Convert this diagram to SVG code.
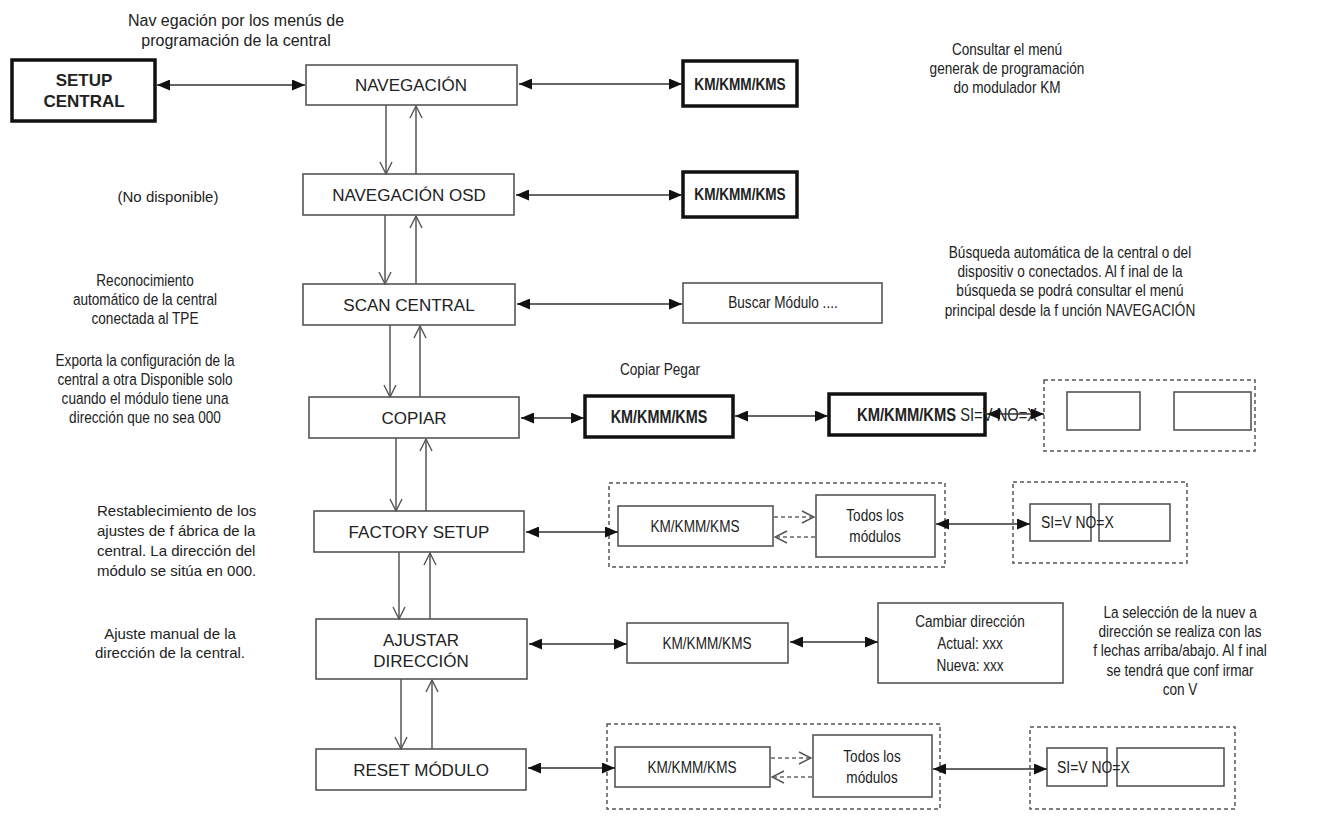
<svg xmlns="http://www.w3.org/2000/svg" width="1318" height="818" viewBox="0 0 1318 818">
<style>
.bg{fill:#fff}
.box{fill:#fff;stroke:#555;stroke-width:1.6}
.thick{fill:#fff;stroke:#111;stroke-width:3.5}
.dash{fill:none;stroke:#555;stroke-width:1.5;stroke-dasharray:4 3}
.inner{fill:#fff;stroke:#555;stroke-width:1.6}
.t{font-family:'Liberation Sans',Arial,sans-serif;fill:#222}
.n{font-family:'Liberation Sans',Arial,sans-serif;fill:#222;transform-box:fill-box;transform-origin:center;transform:scaleX(0.8)}
.nl{font-family:'Liberation Sans',Arial,sans-serif;fill:#222;transform-box:fill-box;transform-origin:left center;transform:scaleX(0.82)}
.bx{font-size:17px;text-anchor:middle}
.b{font-weight:bold}
.c{text-anchor:middle}
.s15{font-size:15px}
.s16{font-size:16px}
.s17{font-size:17px}
.s18{font-size:18px}
.ln{stroke:#333;stroke-width:1.5;fill:none}
.vl{stroke:#555;stroke-width:1.5;fill:none}
.dl{stroke:#666;stroke-width:1.4;fill:none;stroke-dasharray:4 3}
</style>
<defs>
<marker id="ah" viewBox="0 0 13 11" refX="13" refY="5.5" markerWidth="13" markerHeight="11" orient="auto-start-reverse" markerUnits="userSpaceOnUse"><path d="M0,0 L13,5.5 L0,11 Z" fill="#111"/></marker>
<marker id="ov" viewBox="0 0 14 14" refX="13" refY="7" markerWidth="14" markerHeight="14" orient="auto" markerUnits="userSpaceOnUse"><path d="M1,1 L13,7 L1,13" fill="none" stroke="#555" stroke-width="1.4"/></marker>
</defs>
<rect class="bg" width="1318" height="818"/>

<g id="notes">
<text class="t s16 c" x="236" y="26">Nav egación por los menús de</text>
<text class="t s16 c" x="236" y="46">programación de la central</text>
<text class="n s17 c" x="1007" y="55">Consultar el menú</text>
<text class="n s17 c" x="1007" y="74">generak de programación</text>
<text class="n s17 c" x="1007" y="93">do modulador KM</text>
<text class="t s15 c" x="168" y="202">(No disponible)</text>
<text class="n s17 c" x="145" y="286">Reconocimiento</text>
<text class="n s17 c" x="145" y="305">automático de la central</text>
<text class="n s17 c" x="145" y="324">conectada al TPE</text>
<text class="n s17 c" x="1070" y="258">Búsqueda automática de la central o del</text>
<text class="n s17 c" x="1070" y="277">dispositiv o conectados. Al f inal de la</text>
<text class="n s17 c" x="1070" y="296">búsqueda se podrá consultar el menú</text>
<text class="n s17 c" x="1070" y="316">principal desde la f unción NAVEGACIÓN</text>
<text class="n s17 c" x="145" y="366">Exporta la configuración de la</text>
<text class="n s17 c" x="145" y="385">central a otra Disponible solo</text>
<text class="n s17 c" x="145" y="404">cuando el módulo tiene una</text>
<text class="n s17 c" x="145" y="423">dirección que no sea 000</text>
<text class="n s17 c" x="660" y="375">Copiar Pegar</text>
<text class="t s15" x="97" y="516">Restablecimiento de los</text>
<text class="t s15" x="97" y="536">ajustes de f ábrica de la</text>
<text class="t s15" x="97" y="556">central. La dirección del</text>
<text class="t s15" x="97" y="576">módulo se sitúa en 000.</text>
<text class="t s15 c" x="170" y="639">Ajuste manual de la</text>
<text class="t s15 c" x="170" y="658">dirección de la central.</text>
<text class="n s17 c" x="1180" y="618">La selección de la nuev a</text>
<text class="n s17 c" x="1180" y="637">dirección se realiza con las</text>
<text class="n s17 c" x="1180" y="656">f lechas arriba/abajo. Al f inal</text>
<text class="n s17 c" x="1180" y="676">se tendrá que conf irmar</text>
<text class="n s17 c" x="1180" y="695">con V</text>
</g>

<g id="setup-central">
<rect class="thick" x="12" y="60" width="143" height="61"/>
<text class="t b bx" x="84" y="86">SETUP</text>
<text class="t b bx" x="84" y="107">CENTRAL</text>
</g>
<g id="navegacion">
<rect class="box" x="306" y="65" width="211" height="40"/>
<text class="t bx" x="411" y="91">NAVEGACIÓN</text>
</g>
<g id="km1">
<rect class="thick" x="683" y="61" width="114" height="45"/>
<text class="n b s17 c" x="740" y="90">KM/KMM/KMS</text>
</g>
<g id="navegacion-osd">
<rect class="box" x="303" y="174" width="211" height="41"/>
<text class="t bx" x="409" y="201">NAVEGACIÓN OSD</text>
</g>
<g id="km2">
<rect class="thick" x="683" y="172" width="114" height="45"/>
<text class="n b s17 c" x="740" y="200">KM/KMM/KMS</text>
</g>
<g id="scan-central">
<rect class="box" x="303" y="284" width="212" height="41"/>
<text class="t bx" x="409" y="311">SCAN CENTRAL</text>
</g>
<g id="buscar">
<rect class="box" x="683" y="283" width="199" height="40"/>
<text class="n s17 c" x="783" y="308">Buscar Módulo ....</text>
</g>
<g id="copiar">
<rect class="box" x="309" y="397" width="210" height="41"/>
<text class="t bx" x="414" y="424">COPIAR</text>
</g>
<g id="km3">
<rect class="thick" x="585" y="396" width="148" height="41"/>
<text class="n b s18 c" x="659" y="423">KM/KMM/KMS</text>
</g>
<g id="km4">
<rect class="thick" x="829" y="394" width="156" height="41"/>
<text class="nl s18" x="857" y="421"><tspan class="b">KM/KMM/KMS</tspan> SI=V NO=X</text>
</g>
<g id="copiar-confirm">
<rect class="dash" x="1044" y="380" width="211" height="71"/>
<rect class="inner" x="1067" y="392" width="73" height="38"/>
<rect class="inner" x="1174" y="392" width="77" height="38"/>
</g>
<g id="factory-setup">
<rect class="box" x="314" y="511" width="210" height="41"/>
<text class="t bx" x="419" y="538">FACTORY SETUP</text>
</g>
<g id="factory-group">
<rect class="dash" x="609" y="483" width="336" height="84"/>
<rect class="inner" x="618" y="506" width="155" height="40"/>
<text class="n s17 c" x="695" y="532">KM/KMM/KMS</text>
<rect class="inner" x="816" y="495" width="119" height="62"/>
<text class="n s17 c" x="875" y="521">Todos los</text>
<text class="n s17 c" x="875" y="542">módulos</text>
</g>
<g id="factory-confirm">
<rect class="dash" x="1013" y="482" width="174" height="81"/>
<rect class="inner" x="1030" y="504" width="61" height="37"/>
<rect class="inner" x="1099" y="504" width="71" height="37"/>
<text class="nl s17" x="1041" y="528">SI=V NO=X</text>
</g>
<g id="ajustar">
<rect class="box" x="316" y="619" width="211" height="60"/>
<text class="t bx" x="421" y="646">AJUSTAR</text>
<text class="t bx" x="421" y="667">DIRECCIÓN</text>
</g>
<g id="km-ajustar">
<rect class="inner" x="627" y="623" width="161" height="40"/>
<text class="n s17 c" x="707" y="649">KM/KMM/KMS</text>
</g>
<g id="cambiar">
<rect class="inner" x="878" y="603" width="185" height="80"/>
<text class="n s17 c" x="970" y="627">Cambiar dirección</text>
<text class="n s17 c" x="970" y="649">Actual: xxx</text>
<text class="n s17 c" x="970" y="671">Nueva: xxx</text>
</g>
<g id="reset-modulo">
<rect class="box" x="316" y="749" width="210" height="41"/>
<text class="t bx" x="421" y="776">RESET MÓDULO</text>
</g>
<g id="reset-group">
<rect class="dash" x="607" y="724" width="333" height="85"/>
<rect class="inner" x="615" y="747" width="155" height="40"/>
<text class="n s17 c" x="692" y="773">KM/KMM/KMS</text>
<rect class="inner" x="813" y="735" width="119" height="62"/>
<text class="n s17 c" x="872" y="762">Todos los</text>
<text class="n s17 c" x="872" y="783">módulos</text>
</g>
<g id="reset-confirm">
<rect class="dash" x="1030" y="727" width="205" height="82"/>
<rect class="inner" x="1047" y="748" width="60" height="38"/>
<rect class="inner" x="1117" y="748" width="107" height="38"/>
<text class="nl s17" x="1057" y="773">SI=V NO=X</text>
</g>

<g id="connectors">
<line class="ln" x1="157" y1="85" x2="305" y2="85" marker-start="url(#ah)" marker-end="url(#ah)"/>
<line class="ln" x1="519" y1="84" x2="682" y2="84" marker-start="url(#ah)" marker-end="url(#ah)"/>
<line class="ln" x1="516" y1="195" x2="682" y2="195" marker-start="url(#ah)" marker-end="url(#ah)"/>
<line class="ln" x1="517" y1="304" x2="682" y2="304" marker-start="url(#ah)" marker-end="url(#ah)"/>
<line class="ln" x1="521" y1="418" x2="584" y2="418" marker-start="url(#ah)" marker-end="url(#ah)"/>
<line class="ln" x1="735" y1="416" x2="828" y2="416" marker-start="url(#ah)" marker-end="url(#ah)"/>
<line class="ln" x1="987" y1="414" x2="1044" y2="414" marker-start="url(#ah)" marker-end="url(#ah)"/>
<line class="ln" x1="526" y1="532" x2="618" y2="532" marker-start="url(#ah)" marker-end="url(#ah)"/>
<line class="ln" x1="936" y1="524" x2="1030" y2="524" marker-start="url(#ah)" marker-end="url(#ah)"/>
<line class="ln" x1="529" y1="644" x2="627" y2="644" marker-start="url(#ah)" marker-end="url(#ah)"/>
<line class="ln" x1="790" y1="642" x2="878" y2="642" marker-start="url(#ah)" marker-end="url(#ah)"/>
<line class="ln" x1="528" y1="768" x2="615" y2="768" marker-start="url(#ah)" marker-end="url(#ah)"/>
<line class="ln" x1="933" y1="769" x2="1047" y2="769" marker-start="url(#ah)" marker-end="url(#ah)"/>
<line class="dl" x1="774" y1="517" x2="814" y2="517" marker-end="url(#ov)"/>
<line class="dl" x1="815" y1="537" x2="775" y2="537" marker-end="url(#ov)"/>
<line class="dl" x1="771" y1="758" x2="811" y2="758" marker-end="url(#ov)"/>
<line class="dl" x1="812" y1="777" x2="772" y2="777" marker-end="url(#ov)"/>
<line class="vl" x1="386" y1="105" x2="386" y2="174" marker-end="url(#ov)"/>
<line class="vl" x1="416" y1="174" x2="416" y2="106" marker-end="url(#ov)"/>
<line class="vl" x1="385" y1="215" x2="385" y2="284" marker-end="url(#ov)"/>
<line class="vl" x1="416" y1="284" x2="416" y2="216" marker-end="url(#ov)"/>
<line class="vl" x1="390" y1="325" x2="390" y2="397" marker-end="url(#ov)"/>
<line class="vl" x1="420" y1="397" x2="420" y2="326" marker-end="url(#ov)"/>
<line class="vl" x1="396" y1="438" x2="396" y2="511" marker-end="url(#ov)"/>
<line class="vl" x1="426" y1="511" x2="426" y2="439" marker-end="url(#ov)"/>
<line class="vl" x1="399" y1="552" x2="399" y2="619" marker-end="url(#ov)"/>
<line class="vl" x1="430" y1="619" x2="430" y2="553" marker-end="url(#ov)"/>
<line class="vl" x1="401" y1="679" x2="401" y2="749" marker-end="url(#ov)"/>
<line class="vl" x1="432" y1="749" x2="432" y2="680" marker-end="url(#ov)"/>
</g>
</svg>
